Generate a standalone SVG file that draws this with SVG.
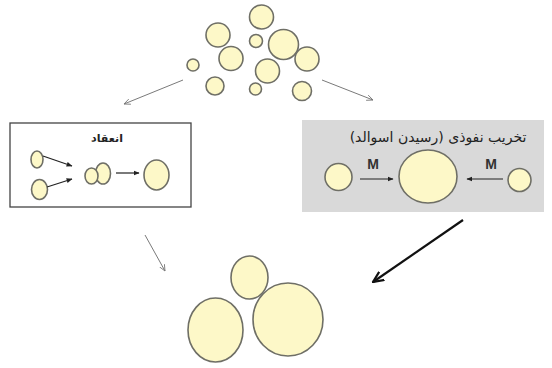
<svg xmlns="http://www.w3.org/2000/svg" width="552" height="368" viewBox="0 0 552 368">
  <defs>
    <style>
      .p { fill: #fdf8c8; stroke: #6f6f66; stroke-width: 1.6; }
      .thin { stroke: #7a7a7a; stroke-width: 1; fill: none; }
      .blk { stroke: #222; stroke-width: 1.2; fill: none; }
      .thick { stroke: #111; stroke-width: 2.2; fill: none; }
      .ar { font-family: "DejaVu Sans", "Noto Sans", sans-serif; fill: #222; text-anchor: middle; }
      .m { font-family: "Liberation Sans", Arial, sans-serif; font-size: 14px; font-weight: bold; fill: #333; text-anchor: middle; }
    </style>
    <marker id="hg" viewBox="0 0 10 10" refX="9" refY="5" markerWidth="7" markerHeight="7" orient="auto" markerUnits="userSpaceOnUse">
      <path d="M0,1 L9,5 L0,9" fill="none" stroke="#7a7a7a" stroke-width="1.2"/>
    </marker>
    <marker id="hb" viewBox="0 0 10 10" refX="9" refY="5" markerWidth="6" markerHeight="6" orient="auto" markerUnits="userSpaceOnUse">
      <path d="M0,1 L10,5 L0,9 z" fill="#222"/>
    </marker>
    <marker id="hk" viewBox="0 0 10 10" refX="9" refY="5" markerWidth="12" markerHeight="12" orient="auto" markerUnits="userSpaceOnUse">
      <path d="M0,1 L9,5 L0,9" fill="none" stroke="#111" stroke-width="1.8"/>
    </marker>
  </defs>
  <rect width="552" height="368" fill="#ffffff"/>

  <!-- scattered particles -->
  <g id="particles">
    <circle class="p" cx="261.5" cy="17" r="12"/>
    <circle class="p" cx="218" cy="35" r="12"/>
    <circle class="p" cx="256" cy="41" r="6.5"/>
    <circle class="p" cx="283.5" cy="44.5" r="15"/>
    <circle class="p" cx="307" cy="59" r="12"/>
    <circle class="p" cx="231" cy="58.5" r="12"/>
    <circle class="p" cx="193" cy="65" r="6"/>
    <circle class="p" cx="267.5" cy="71" r="12"/>
    <circle class="p" cx="215" cy="86" r="9"/>
    <circle class="p" cx="255.5" cy="89" r="6"/>
    <circle class="p" cx="302" cy="91" r="9.5"/>
  </g>

  <!-- coagulation box -->
  <g id="coagulation">
    <rect x="10" y="123" width="181" height="84" fill="#ffffff" stroke="#444" stroke-width="1.3"/>
    <text class="ar" x="107" y="142" font-size="11" font-weight="bold">انعقاد</text>
    <ellipse class="p" cx="37" cy="159.5" rx="6" ry="8.5"/>
    <ellipse class="p" cx="39.5" cy="189.5" rx="8" ry="10"/>
    <ellipse class="p" cx="103" cy="173.5" rx="7.5" ry="10.5"/>
    <ellipse class="p" cx="91.5" cy="176" rx="6.5" ry="8"/>
    <ellipse class="p" cx="156.5" cy="175" rx="12.5" ry="15"/>
  </g>

  <!-- diffusive destruction box -->
  <g id="ripening">
    <rect x="302" y="120" width="242" height="92" fill="#d9d9d9"/>
    <text class="ar" x="438" y="142" font-size="14">تخریب نفوذی (رسیدن اسوالد)</text>
    <circle class="p" cx="338.5" cy="177" r="13.5"/>
    <ellipse class="p" cx="428" cy="176.5" rx="29" ry="26.5"/>
    <circle class="p" cx="519.5" cy="180" r="11.5"/>
    <text class="m" x="373" y="169">M</text>
    <text class="m" x="491" y="169">M</text>
  </g>

  <!-- final aggregate -->
  <g id="aggregate">
    <ellipse class="p" cx="249.5" cy="277.5" rx="18.5" ry="21.5"/>
    <ellipse class="p" cx="215.5" cy="330" rx="27.5" ry="32"/>
    <ellipse class="p" cx="288" cy="319.5" rx="35" ry="36.5"/>
  </g>

  <!-- connectors -->
  <g id="connectors">
    <line class="thin" x1="183" y1="80" x2="124" y2="104" marker-end="url(#hg)"/>
    <line class="thin" x1="322" y1="80" x2="373" y2="100" marker-end="url(#hg)"/>
    <line class="blk" x1="43" y1="156" x2="72" y2="166" marker-end="url(#hb)"/>
    <line class="blk" x1="47" y1="187" x2="72" y2="179" marker-end="url(#hb)"/>
    <line class="blk" x1="116" y1="173" x2="139" y2="173" marker-end="url(#hb)"/>
    <line class="blk" x1="360" y1="179" x2="393" y2="179" marker-end="url(#hb)"/>
    <line class="blk" x1="503" y1="179" x2="467" y2="179" marker-end="url(#hb)"/>
    <line class="thin" x1="145" y1="235" x2="165" y2="271" marker-end="url(#hg)"/>
    <line class="thick" x1="463" y1="220" x2="373" y2="282" marker-end="url(#hk)"/>
  </g>
</svg>
